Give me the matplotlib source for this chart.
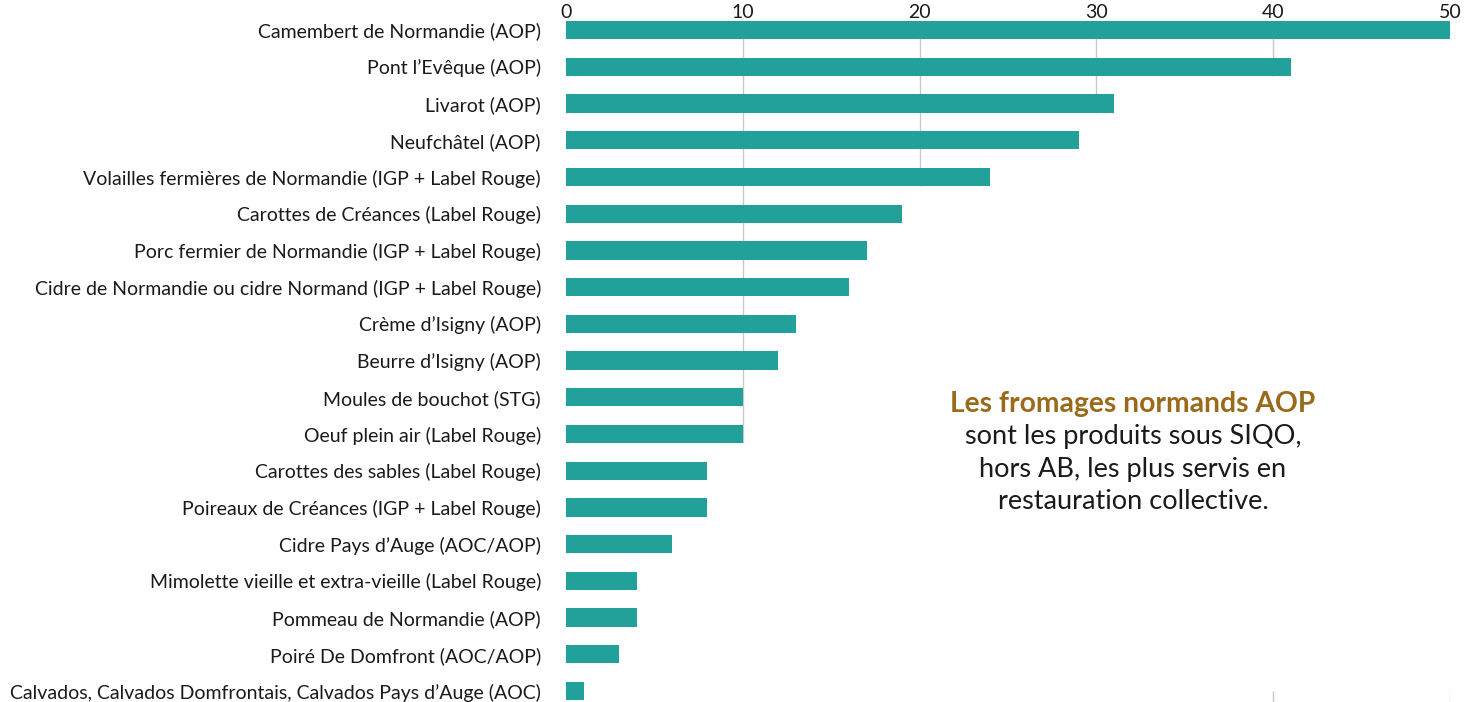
import matplotlib.pyplot as plt

produits = [
    "Camembert de Normandie (AOP)",
    "Pont l\u2019Ev\u00eaque (AOP)",
    "Livarot (AOP)",
    "Neufch\u00e2tel (AOP)",
    "Volailles fermi\u00e8res de Normandie (IGP + Label Rouge)",
    "Carottes de Cr\u00e9ances (Label Rouge)",
    "Porc fermier de Normandie (IGP + Label Rouge)",
    "Cidre de Normandie ou cidre Normand (IGP + Label Rouge)",
    "Cr\u00e8me d\u2019Isigny (AOP)",
    "Beurre d\u2019Isigny (AOP)",
    "Moules de bouchot (STG)",
    "Oeuf plein air (Label Rouge)",
    "Carottes des sables (Label Rouge)",
    "Poireaux de Cr\u00e9ances (IGP + Label Rouge)",
    "Cidre Pays d\u2019Auge (AOC/AOP)",
    "Mimolette vieille et extra-vieille (Label Rouge)",
    "Pommeau de Normandie (AOP)",
    "Poir\u00e9 De Domfront (AOC/AOP)",
    "Calvados, Calvados Domfrontais, Calvados Pays d\u2019Auge (AOC)",
]
valeurs = [50, 41, 31, 29, 24, 19, 17, 16, 13, 12, 10, 10, 8, 8, 6, 4, 4, 3, 1]
graduations = [0, 10, 20, 30, 40, 50]

plt.rcParams['font.family'] = ['Lato', 'DejaVu Sans']

fig = plt.figure(figsize=(14.7, 7.02), dpi=100)
ax = fig.add_axes([566 / 1470, 0, (1450 - 566) / 1470, (702 - 21) / 702])

pos = list(range(len(produits)))
ax.barh(pos, valeurs, height=0.5, color='#22a09a', zorder=2)

# grid lines only run down to the last bar that reaches them
for t in graduations[1:]:
    last = max(i for i, v in enumerate(valeurs) if v >= t)
    ax.vlines(t, -0.3, last + 0.25, color='#c8c8c8', lw=1, zorder=1)
for t in [40, 50]:
    ax.vlines(t, 18, 18.3, color='#c8c8c8', lw=1, zorder=1)

ax.set_xlim(0, 50)
ax.set_ylim(18.3, -0.25)
ax.set_yticks(pos)
ax.set_yticklabels(produits, fontsize=14, color='#1a1a1a')
ax.xaxis.tick_top()
ax.set_xticks(graduations)
ax.set_xticklabels([str(g) for g in graduations], fontsize=14, color='#1a1a1a')
ax.tick_params(axis='both', length=0)
ax.tick_params(axis='y', pad=18)
ax.tick_params(axis='x', pad=0)
for s in ax.spines.values():
    s.set_visible(False)

fig.text(1133 / 1470, 1 - 404 / 702, "Les fromages normands AOP", ha='center', va='center',
         fontsize=20.3, fontweight='bold', color='#9a6a1a')
fig.text(1133 / 1470, 1 - 469 / 702,
         "sont les produits sous SIQO,\nhors AB, les plus servis en\nrestauration collective.",
         ha='center', va='center', fontsize=19.5, color='#1a1a1a',
         linespacing=1.36)

fig.savefig('out.png', dpi=100)
